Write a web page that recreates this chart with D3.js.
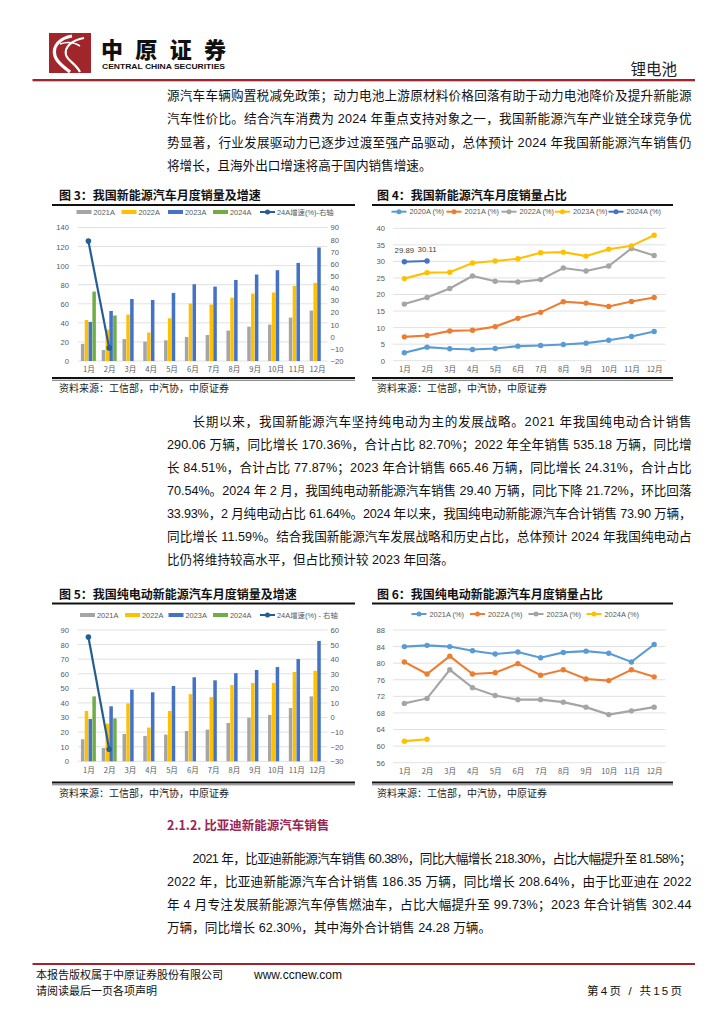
<!DOCTYPE html>
<html><head><meta charset="utf-8">
<script src="https://cdn.jsdelivr.net/npm/d3@7/dist/d3.min.js"></script>
<style>
html,body{margin:0;padding:0;background:#fff;}
svg{display:block;}
</style></head>
<body>
<script>
// ---------------- DATA ----------------
const months = ['1月','2月','3月','4月','5月','6月','7月','8月','9月','10月','11月','12月'];

// 图3 新能源汽车月度销量（万辆）及 24A 增速
const nev2021 = [18, 11.5, 23, 20.3, 21.7, 25.2, 27.3, 31.9, 36, 38.2, 45.5, 52.9];
const nev2022 = [43, 33, 48.7, 29.8, 44.8, 60.2, 59.2, 66.5, 70.7, 71.8, 78.8, 81.9];
const nev2023 = [41, 52.5, 65, 64, 71.4, 80.5, 78, 85, 90.7, 95.2, 102.9, 119];
const nev2024 = [72.8, 47.7];
const nevGrowth24 = [78.8, -9.2];
const nevLeftTicks = [0, 20, 40, 60, 80, 100, 120, 140];
const nevRightTicks = [-20, -10, 0, 10, 20, 30, 40, 50, 60, 70, 80, 90];

// 图4 新能源汽车月度销量占比（%）
const share2020 = [2.4, 4.1, 3.6, 3.4, 3.7, 4.4, 4.6, 4.9, 5.3, 6.2, 7.3, 8.8];
const share2021 = [7.2, 7.6, 9.0, 9.2, 10.3, 12.8, 14.6, 17.8, 17.4, 16.4, 17.9, 19.1];
const share2022 = [17.1, 19.1, 21.8, 25.6, 24.0, 23.8, 24.5, 28.0, 27.1, 28.6, 33.9, 31.8];
const share2023 = [24.8, 26.6, 26.7, 29.5, 30.1, 30.8, 32.6, 32.8, 31.6, 33.7, 34.7, 37.9];
const share2024 = [29.89, 30.11];
const shareTicks = [0, 5, 10, 15, 20, 25, 30, 35, 40];

// 图5 纯电动新能源汽车月度销量（万辆）及 24A 增速
const bev2021 = [15.1, 9.1, 18.7, 17.4, 18.3, 20.8, 21.7, 26.3, 29.9, 31.8, 36.5, 44.5];
const bev2022 = [34.5, 25.8, 39.7, 23.1, 34.5, 46, 44, 52.3, 53.7, 53.7, 61.2, 62];
const bev2023 = [29, 37.7, 49.1, 47.3, 51.6, 57.6, 55.5, 60.4, 62.6, 64.6, 70.1, 82.5];
const bev2024 = [44.5, 29.4];
const bevGrowth24 = [55.2, -21.72];
const bevLeftTicks = [0, 10, 20, 30, 40, 50, 60, 70, 80, 90];
const bevRightTicks = [-30, -20, -10, 0, 10, 20, 30, 40, 50, 60];

// 图6 纯电动新能源汽车月度销量占比（%）
const bevShare2021 = [84.0, 84.3, 84.0, 83.0, 82.2, 82.7, 81.3, 82.6, 82.9, 82.4, 80.3, 84.5];
const bevShare2022 = [80.3, 77.4, 81.7, 77.4, 77.7, 79.9, 77.1, 78.4, 76.2, 75.8, 78.4, 76.7];
const bevShare2023 = [70.3, 71.5, 78.4, 74.1, 72.2, 71.2, 71.2, 70.6, 69.4, 67.6, 68.5, 69.4];
const bevShare2024 = [61.2, 61.64];
const bevShareTicks = [56, 60, 64, 68, 72, 76, 80, 84, 88];

// ---------------- TEXT ----------------
const para1 = [
  '源汽车车辆购置税减免政策；动力电池上游原材料价格回落有助于动力电池降价及提升新能源',
  '汽车性价比。结合汽车消费为 2024 年重点支持对象之一，我国新能源汽车产业链全球竞争优',
  '势显著，行业发展驱动力已逐步过渡至强产品驱动，总体预计 2024 年我国新能源汽车销售仍',
  '将增长，且海外出口增速将高于国内销售增速。'
];
const para2 = [
  '长期以来，我国新能源汽车坚持纯电动为主的发展战略。2021 年我国纯电动合计销售',
  '290.06 万辆，同比增长 170.36%，合计占比 82.70%；2022 年全年销售 535.18 万辆，同比增',
  '长 84.51%，合计占比 77.87%；2023 年合计销售 665.46 万辆，同比增长 24.31%，合计占比',
  '70.54%。2024 年 2 月，我国纯电动新能源汽车销售 29.40 万辆，同比下降 21.72%，环比回落',
  '33.93%，2 月纯电动占比 61.64%。2024 年以来，我国纯电动新能源汽车合计销售 73.90 万辆，',
  '同比增长 11.59%。结合我国新能源汽车发展战略和历史占比，总体预计 2024 年我国纯电动占',
  '比仍将维持较高水平，但占比预计较 2023 年回落。'
];
const para3 = [
  '2021 年，比亚迪新能源汽车销售 60.38%，同比大幅增长 218.30%，占比大幅提升至 81.58%；',
  '2022 年，比亚迪新能源汽车合计销售 186.35 万辆，同比增长 208.64%，由于比亚迪在 2022',
  '年 4 月专注发展新能源汽车停售燃油车，占比大幅提升至 99.73%；2023 年合计销售 302.44',
  '万辆，同比增长 62.30%，其中海外合计销售 24.28 万辆。'
];

// ---------------- DRAW ----------------
const W = 724, H = 1024;
const svg = d3.select('body').append('svg').attr('width', W).attr('height', H);
svg.append('rect').attr('width', W).attr('height', H).attr('fill', '#fff');

const FONT = '"Liberation Sans", "Noto Sans CJK SC", sans-serif';
const CJK = '"Noto Sans CJK SC", "Liberation Sans", sans-serif';
const RED = '#A3232D';

// Header logo
const logo = svg.append('g');
logo.append('rect').attr('x', 49).attr('y', 33).attr('width', 42).attr('height', 40).attr('fill', '#A0262C');
logo.append('path').attr('d', 'M72,36 C60,38 52,46 55,56 C57,63 64,67 70,72')
  .attr('fill', 'none').attr('stroke', '#fff').attr('stroke-width', 3.2);
logo.append('path').attr('d', 'M84,38 C72,40 64,47 66,55 C68,61 76,64 80,72')
  .attr('fill', 'none').attr('stroke', '#fff').attr('stroke-width', 2.2);
logo.append('path').attr('d', 'M60,44 C66,42 74,42 80,46')
  .attr('fill', 'none').attr('stroke', '#fff').attr('stroke-width', 1.6);
svg.append('text').attr('x', 101).attr('y', 58).attr('font-family', CJK).attr('font-weight', 900)
  .attr('font-size', 22).attr('fill', '#111').attr('textLength', 125).attr('lengthAdjust', 'spacing').text('中原证券');
svg.append('text').attr('x', 102).attr('y', 69).attr('font-family', FONT).attr('font-weight', 700)
  .attr('font-size', 6.6).attr('fill', '#111').attr('textLength', 123).attr('lengthAdjust', 'spacingAndGlyphs').text('CENTRAL CHINA SECURITIES');
svg.append('text').attr('x', 677).attr('y', 75).attr('text-anchor', 'end').attr('font-family', CJK)
  .attr('font-size', 15.5).attr('fill', '#222').text('锂电池');
svg.append('line').attr('x1', 32.5).attr('x2', 695).attr('y1', 80).attr('y2', 80).attr('stroke', RED).attr('stroke-width', 2);
svg.append('line').attr('x1', 32.5).attr('x2', 695).attr('y1', 81.5).attr('y2', 81.5).attr('stroke', '#e8b8bb').attr('stroke-width', 1);

// Paragraph helper
const TL = 167, TR = 691.5;
function paragraph(lines, y0, dy, indent) {
  lines.forEach((ln, i) => {
    const x = (i === 0 && indent) ? TL + 25.5 : TL;
    const t = svg.append('text').attr('x', x).attr('y', y0 + i * dy + 4.5)
      .attr('font-family', FONT).attr('font-size', 12.6).attr('fill', '#111').text(ln);
    if (i < lines.length - 1) t.attr('textLength', TR - x).attr('lengthAdjust', 'spacing');
  });
}
paragraph(para1, 95.5, 23.4, false);
paragraph(para2, 421, 23.1, true);
svg.append('text').attr('x', TL).attr('y', 825 + 4.5).attr('font-family', CJK).attr('font-weight', 700)
  .attr('font-size', 12.5).attr('fill', '#9B2557').text('2.1.2. 比亚迪新能源汽车销售');
paragraph(para3, 858, 23.3, true);

// Footer
svg.append('line').attr('x1', 32.5).attr('x2', 695).attr('y1', 964).attr('y2', 964).attr('stroke', RED).attr('stroke-width', 2);
svg.append('text').attr('x', 36).attr('y', 979).attr('font-family', CJK).attr('font-size', 11).attr('fill', '#111').text('本报告版权属于中原证券股份有限公司');
svg.append('text').attr('x', 254).attr('y', 979).attr('font-family', FONT).attr('font-size', 12).attr('fill', '#111').text('www.ccnew.com');
svg.append('text').attr('x', 36).attr('y', 995).attr('font-family', CJK).attr('font-size', 11).attr('fill', '#111').text('请阅读最后一页各项声明');
svg.append('text').attr('x', 587).attr('y', 995).attr('font-family', FONT).attr('font-size', 11.5).attr('fill', '#111')
  .attr('textLength', 95).attr('lengthAdjust', 'spacing').text('第4页 / 共15页');

// Figure frame helper
function frame(x1, x2, titleX, titleY, topY, botY, title) {
  svg.append('text').attr('x', titleX).attr('y', titleY + 4.5).attr('font-family', CJK).attr('font-weight', 700)
    .attr('font-size', 12).attr('fill', '#111').text(title);
  svg.append('line').attr('x1', x1).attr('x2', x2).attr('y1', topY).attr('y2', topY).attr('stroke', '#111').attr('stroke-width', 2);
  svg.append('line').attr('x1', x1).attr('x2', x2).attr('y1', botY).attr('y2', botY).attr('stroke', '#111').attr('stroke-width', 2);
  svg.append('line').attr('x1', x1).attr('x2', x2).attr('y1', botY + 2.3).attr('y2', botY + 2.3).attr('stroke', '#111').attr('stroke-width', 0.6);
  svg.append('text').attr('x', titleX).attr('y', botY + 14).attr('font-family', CJK)
    .attr('font-size', 10).attr('fill', '#222').text('资料来源：工信部，中汽协，中原证券');
}

const C = {gray: '#A5A5A5', yellow: '#FFC000', blue: '#4472C4', green: '#70AD47', dark: '#255E91',
  lblue: '#5B9BD5', orange: '#ED7D31', grid: '#D9D9D9', tick: '#595959'};

// Bar + line chart
function barChart(o) {
  const g = svg.append('g');
  const yL = d3.scaleLinear().domain(o.leftDomain).range([o.y0, o.y1]);
  const yR = d3.scaleLinear().domain(o.rightDomain).range([o.y0, o.y1]);
  const x0 = d3.scaleBand().domain(months).range([o.xa, o.xb]).paddingInner(0.28).paddingOuter(0.14);
  const x1 = d3.scaleBand().domain([0, 1, 2, 3]).range([0, x0.bandwidth()]).paddingInner(0.08);
  const xc = d3.scalePoint().domain(months).range([o.xa, o.xb]).padding(0.5);
  g.selectAll('.gl').data(o.leftTicks).join('line')
    .attr('x1', o.xa).attr('x2', o.xb).attr('y1', d => yL(d)).attr('y2', d => yL(d))
    .attr('stroke', C.grid).attr('stroke-width', 0.8);
  const axL = d3.axisLeft(yL).tickValues(o.leftTicks).tickSize(0).tickPadding(0);
  const gl = g.append('g').attr('transform', `translate(${o.xa - 9},0)`).call(axL);
  const axR = d3.axisRight(yR).tickValues(o.rightTicks).tickSize(0).tickPadding(0);
  const gr = g.append('g').attr('transform', `translate(${o.xb + 3},0)`).call(axR);
  const axB = d3.axisBottom(xc).tickSize(0).tickPadding(0);
  const gb = g.append('g').attr('transform', `translate(0,${o.y0 + 6})`).call(axB);
  [gl, gr, gb].forEach(a => {
    a.select('.domain').remove();
    a.selectAll('text').attr('font-family', FONT).attr('font-size', 7.6).attr('fill', C.tick);
  });
  gb.selectAll('text').attr('font-family', CJK).attr('font-size', 7.6);
  const series = [o.s2021, o.s2022, o.s2023, o.s2024];
  const cols = [C.gray, C.yellow, C.blue, C.green];
  series.forEach((s, si) => {
    g.selectAll('.b' + si).data(s).join('rect')
      .attr('x', (d, i) => x0(months[i]) + x1(si))
      .attr('width', x1.bandwidth())
      .attr('y', d => yL(d)).attr('height', d => yL(0) - yL(d))
      .attr('fill', cols[si]);
  });
  const line = d3.line().x((d, i) => xc(months[i])).y(d => yR(d));
  g.append('path').datum(o.growth).attr('d', line).attr('fill', 'none').attr('stroke', C.dark).attr('stroke-width', 2.2);
  g.selectAll('.gp').data(o.growth).join('circle')
    .attr('cx', (d, i) => xc(months[i])).attr('cy', d => yR(d)).attr('r', 2.8).attr('fill', C.dark);
  const names = ['2021A', '2022A', '2023A', '2024A'];
  names.forEach((n, i) => {
    const lx = o.legX[i];
    g.append('rect').attr('x', lx).attr('y', o.legY - 2).attr('width', 15).attr('height', 4).attr('fill', cols[i]);
    g.append('text').attr('x', lx + 17).attr('y', o.legY + 2.7).attr('font-family', FONT)
      .attr('font-size', 7.4).attr('fill', C.tick).text(n);
  });
  const lx = o.legX[4];
  g.append('line').attr('x1', lx).attr('x2', lx + 15).attr('y1', o.legY).attr('y2', o.legY).attr('stroke', C.dark).attr('stroke-width', 2);
  g.append('circle').attr('cx', lx + 7.5).attr('cy', o.legY).attr('r', 2.5).attr('fill', C.dark);
  g.append('text').attr('x', lx + 17).attr('y', o.legY + 2.7).attr('font-family', FONT)
    .attr('font-size', 7.4).attr('fill', C.tick).text(o.growthName);
}

function lineChart(o) {
  const g = svg.append('g');
  const y = d3.scaleLinear().domain(o.domain).range([o.y0, o.y1]);
  const x = d3.scalePoint().domain(months).range([o.xa, o.xb]).padding(0.5);
  g.selectAll('.gl').data(o.ticks).join('line')
    .attr('x1', o.xa).attr('x2', o.xb).attr('y1', d => y(d)).attr('y2', d => y(d))
    .attr('stroke', C.grid).attr('stroke-width', 0.8);
  const gl = g.append('g').attr('transform', `translate(${o.xa - 8},0)`).call(d3.axisLeft(y).tickValues(o.ticks).tickSize(0).tickPadding(0));
  const gb = g.append('g').attr('transform', `translate(0,${o.y0 + 6})`).call(d3.axisBottom(x).tickSize(0).tickPadding(0));
  [gl, gb].forEach(a => {
    a.select('.domain').remove();
    a.selectAll('text').attr('font-family', FONT).attr('font-size', 7.6).attr('fill', C.tick);
  });
  gb.selectAll('text').attr('font-family', CJK);
  const line = d3.line().x((d, i) => x(months[i])).y(d => y(d));
  o.series.forEach((s, si) => {
    g.append('path').datum(s.values).attr('d', line).attr('fill', 'none').attr('stroke', s.color).attr('stroke-width', 2.1);
    g.selectAll('.p' + si).data(s.values).join('circle')
      .attr('cx', (d, i) => x(months[i])).attr('cy', d => y(d)).attr('r', 2.7).attr('fill', s.color);
    if (s.labels) {
      g.selectAll('.l' + si).data(s.values).join('text')
        .attr('x', (d, i) => x(months[i])).attr('y', d => y(d) - 9)
        .attr('text-anchor', 'middle').attr('font-family', FONT).attr('font-size', 7.8).attr('fill', '#404040')
        .text(d => d3.format('.2f')(d));
    }
    const lx = o.legX[si];
    g.append('line').attr('x1', lx).attr('x2', lx + 15).attr('y1', o.legY).attr('y2', o.legY).attr('stroke', s.color).attr('stroke-width', 2);
    g.append('circle').attr('cx', lx + 7.5).attr('cy', o.legY).attr('r', 2.5).attr('fill', s.color);
    g.append('text').attr('x', lx + 18).attr('y', o.legY + 2.7).attr('font-family', FONT)
      .attr('font-size', 7.4).attr('fill', C.tick).text(s.name);
  });
}

// Figure 3
frame(52, 355, 59, 195, 205, 378, '图 3：我国新能源汽车月度销量及增速');
barChart({xa: 78, xb: 327.5, y0: 361, y1: 227.5, leftDomain: [0, 140], rightDomain: [-20, 90],
  leftTicks: nevLeftTicks, rightTicks: nevRightTicks,
  s2021: nev2021, s2022: nev2022, s2023: nev2023, s2024: nev2024, growth: nevGrowth24,
  growthName: '24A增速(%)-右轴', legY: 212, legX: [76.5, 121.5, 168, 213, 260]});

// Figure 4
frame(372, 673, 377, 195, 205, 378, '图 4：我国新能源汽车月度销量占比');
lineChart({xa: 393, xb: 665.5, y0: 360.7, y1: 228.3, domain: [0, 40], ticks: shareTicks, legY: 211.7,
  legX: [391.5, 446.5, 501.5, 555, 608.5],
  series: [
    {name: '2020A (%)', values: share2020, color: C.lblue},
    {name: '2021A (%)', values: share2021, color: C.orange},
    {name: '2022A (%)', values: share2022, color: C.gray},
    {name: '2023A (%)', values: share2023, color: C.yellow},
    {name: '2024A (%)', values: share2024, color: C.blue, labels: true}
  ]});

// Figure 5
frame(52, 355, 59, 594, 603.5, 782.5, '图 5：我国纯电动新能源汽车月度销量及增速');
barChart({xa: 78, xb: 327.5, y0: 761.3, y1: 630, leftDomain: [0, 90], rightDomain: [-30, 60],
  leftTicks: bevLeftTicks, rightTicks: bevRightTicks,
  s2021: bev2021, s2022: bev2022, s2023: bev2023, s2024: bev2024, growth: bevGrowth24,
  growthName: '24A增速(%) - 右轴', legY: 615, legX: [80, 125, 168.5, 213, 260]});

// Figure 6
frame(372, 673, 377, 594, 603.5, 782.5, '图 6：我国纯电动新能源汽车月度销量占比');
lineChart({xa: 393, xb: 665.5, y0: 762.7, y1: 630, domain: [56, 88], ticks: bevShareTicks, legY: 614,
  legX: [411.5, 470, 528.5, 586.5],
  series: [
    {name: '2021A (%)', values: bevShare2021, color: C.lblue},
    {name: '2022A (%)', values: bevShare2022, color: C.orange},
    {name: '2023A (%)', values: bevShare2023, color: C.gray},
    {name: '2024A (%)', values: bevShare2024, color: C.yellow}
  ]});
</script>
</body></html>
